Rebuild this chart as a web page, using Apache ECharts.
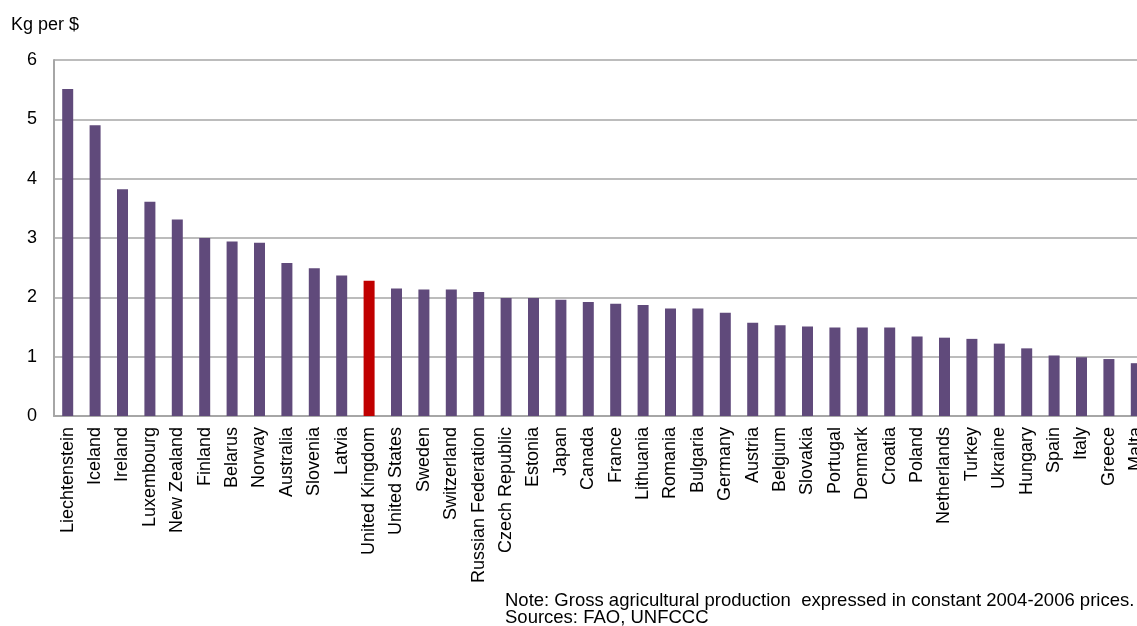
<!DOCTYPE html>
<html><head><meta charset="utf-8">
<script src="https://cdn.jsdelivr.net/npm/echarts@6/dist/echarts.min.js"></script>
<style>html,body{margin:0;padding:0;background:#fff;overflow:hidden;width:1137px;height:626px}#c{width:1150px;height:626px}</style>
</head><body><div id="c"></div>
<script>
const categories = ["Liechtenstein","Iceland","Ireland","Luxembourg","New Zealand","Finland","Belarus","Norway","Australia","Slovenia","Latvia","United Kingdom","United States","Sweden","Switzerland","Russian Federation","Czech Republic","Estonia","Japan","Canada","France","Lithuania","Romania","Bulgaria","Germany","Austria","Belgium","Slovakia","Portugal","Denmark","Croatia","Poland","Netherlands","Turkey","Ukraine","Hungary","Spain","Italy","Greece","Malta"];
const values = [5.51,4.90,3.82,3.61,3.31,3.00,2.94,2.92,2.58,2.49,2.37,2.28,2.15,2.13,2.13,2.09,1.99,1.99,1.96,1.92,1.89,1.87,1.81,1.81,1.74,1.57,1.53,1.51,1.49,1.49,1.49,1.34,1.32,1.30,1.22,1.14,1.02,0.99,0.96,0.89];
const highlight = "United Kingdom";
const yTicks = [0,1,2,3,4,5,6];

const chart = echarts.init(document.getElementById('c'));
const font = 'Liberation Sans, Arial, sans-serif';
chart.setOption({
  animation: false,
  grid: {left: 54, top: 60, bottom: 210, right: 0, containLabel: false},
  graphic: [
    {type:'text', x: 11, y: 25, style:{text:'Kg per $', font:'18px ' + font, fill:'#000', textVerticalAlign:'middle'}},
    {type:'text', x: 505, y: 601, style:{text:'Note: Gross agricultural production  expressed in constant 2004-2006 prices.', font:'18.5px ' + font, fill:'#000', textVerticalAlign:'middle'}},
    {type:'text', x: 505, y: 618, style:{text:'Sources: FAO, UNFCCC', font:'18.5px ' + font, fill:'#000', textVerticalAlign:'middle'}}
  ],
  xAxis: {
    type: 'category', data: categories,
    axisLine: {show: true, lineStyle: {color: '#a6a6a6', width: 2}},
    axisTick: {show: false},
    axisLabel: {rotate: 90, interval: 0, margin: 11, fontSize: 18, fontFamily: font, color: '#000'}
  },
  yAxis: {
    type: 'value', min: yTicks[0], max: yTicks[yTicks.length-1], interval: 1,
    axisLine: {show: true, lineStyle: {color: '#a6a6a6', width: 2}},
    axisTick: {show: false},
    splitLine: {lineStyle: {color: '#a6a6a6', width: 1.5}},
    axisLabel: {margin: 17, fontSize: 18, fontFamily: font, color: '#000'}
  },
  series: [{
    type: 'bar', barWidth: 11,
    data: values.map((v,i) => ({value: v, itemStyle: {color: categories[i] === highlight ? '#c00000' : '#604a7b'}}))
  }]
});
</script></body></html>
